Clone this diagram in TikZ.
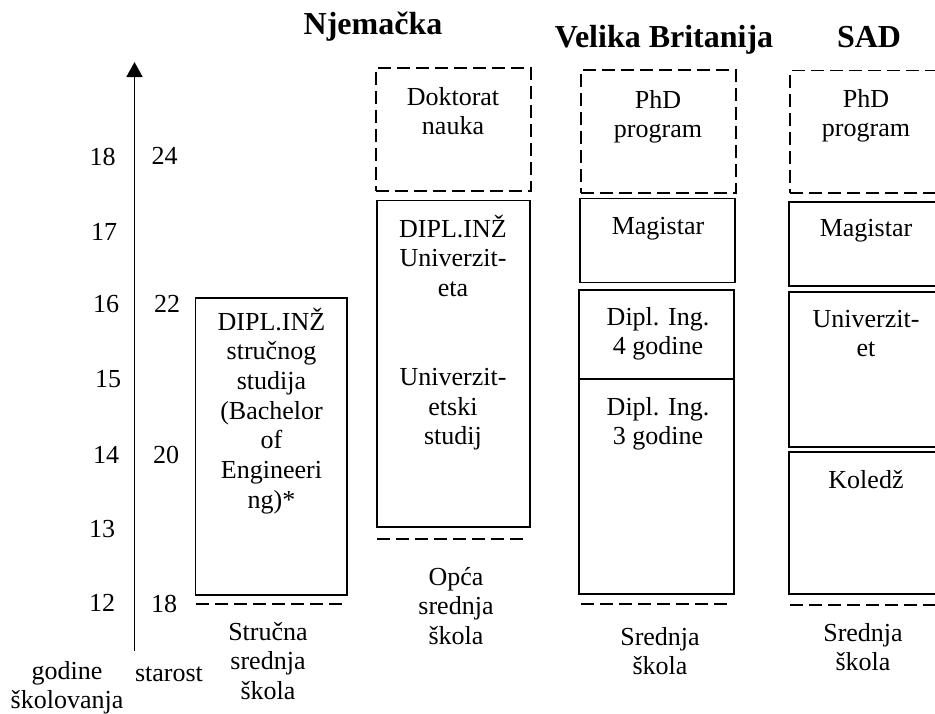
\documentclass[tikz,border=0pt]{standalone}
\usepackage{fontspec}
\setmainfont{Liberation Serif}
\usetikzlibrary{arrows.meta,fit}
\tikzset{
  txt/.style={inner sep=0pt, anchor=base, font=\fontsize{26}{29.7}\selectfont},
  ttl/.style={inner sep=0pt, anchor=base, font=\fontsize{32}{38}\selectfont\bfseries},
  box/.style={draw, line width=1.5pt, inner sep=0pt, rectangle},
  dbox/.style={box, dash pattern=on 13pt off 6pt},
  dline/.style={line width=1.5pt, dash pattern=on 13pt off 6pt},
  axis/.style={line width=1.8pt, -{Triangle[width=16pt,length=15pt]}}
}
\newcommand\txtlines[4]{%
  \foreach \t [count=\i from 0] in {#4} {\node[txt] (#3-\i) at (#1,{#2+29.7*\i}) {\t};}}
\begin{document}
\begin{tikzpicture}[x=1pt,y=-1pt]
\useasboundingbox (0,0) rectangle (935,713);
\clip (0,0) rectangle (935,713);

% axis
\coordinate (abot) at (134.5,651);
\coordinate (atop) at (134.5,62);
\draw[axis] (abot) -- (atop);

% left numbers (godine skolovanja)
\node[txt] (g18) at (102.5,165) {18};
\node[txt] (g17) at (104,240) {17};
\node[txt] (g16) at (106,312) {16};
\node[txt] (g15) at (108,387) {15};
\node[txt] (g14) at (106,463) {14};
\node[txt] (g13) at (102,537) {13};
\node[txt] (g12) at (102,611) {12};
% right numbers (starost)
\node[txt] (s24) at (164.5,164) {24};
\node[txt] (s22) at (167,312) {22};
\node[txt] (s20) at (166,463) {20};
\node[txt] (s18) at (164,612) {18};

\txtlines{67}{679}{gsk}{godine,školovanja}
\node[txt] (star) at (169,681) {starost};

% titles
\node[ttl] (tnj) at (373,34) {Njemačka};
\node[ttl] (tvb) at (664,47) {Velika Britanija};
\node[ttl] (tsad) at (869,47) {SAD};

% column 1: strucni studij
\node[box, fit={(195.5,298) (347,595)}] (b1) {};
\txtlines{271.5}{330}{b1t}{DIPL.INŽ,stručnog,studija,{(Bachelor},of,Engineeri,{ng)*}}
\coordinate (d1a) at (196,604);
\coordinate (d1b) at (346,604);
\draw[dline] (d1a) -- (d1b);
\txtlines{268}{640}{b1s}{Stručna,srednja,škola}

% column 2: Njemacka
\node[dbox, fit={(376,68) (531,191)}] (njdok) {};
\txtlines{453}{105}{njdokt}{Doktorat,nauka}
\node[box, fit={(377,200.5) (530,527)}] (njdipl) {};
\txtlines{453}{237}{njdiplt}{DIPL.INŽ,Univerzit-,eta}
\txtlines{453}{385.5}{njunit}{Univerzit-,etski,studij}
\coordinate (d2a) at (377,539);
\coordinate (d2b) at (527,539);
\draw[dline] (d2a) -- (d2b);
\txtlines{456}{585}{njs}{Opća,srednja,škola}

% column 3: Velika Britanija
\node[dbox, fit={(581,70) (736,193)}] (vbphd) {};
\txtlines{658}{108}{vbphdt}{PhD,program}
\node[box, fit={(580,198.5) (735,282.5)}] (vbmag) {};
\txtlines{658}{234}{vbmagt}{Magistar}
\node[box, fit={(579,290) (734,379)}] (vbd4) {};
\txtlines{658}{325}{vbd4t}{Dipl. Ing.,4 godine}
\node[box, fit={(579,379) (734,594)}] (vbd3) {};
\txtlines{658}{415}{vbd3t}{Dipl. Ing.,3 godine}
\coordinate (d3a) at (581,604);
\coordinate (d3b) at (729,604);
\draw[dline] (d3a) -- (d3b);
\txtlines{660}{645}{vbs}{Srednja,škola}

% column 4: SAD
\node[dbox, fit={(790,70.5) (945,193)}] (sadphd) {};
\txtlines{866}{107}{sadphdt}{PhD,program}
\node[box, fit={(789,202) (945,286)}] (sadmag) {};
\txtlines{866}{236}{sadmagt}{Magistar}
\node[box, fit={(789,292) (945,447)}] (saduni) {};
\txtlines{866}{327}{sadunit}{Univerzit-,et}
\node[box, fit={(789,452) (945,594)}] (sadkol) {};
\txtlines{866}{488}{sadkolt}{Koledž}
\coordinate (d4a) at (790,605);
\coordinate (d4b) at (945,605);
\draw[dline] (d4a) -- (d4b);
\txtlines{863}{641}{sads}{Srednja,škola}
\end{tikzpicture}
\end{document}
